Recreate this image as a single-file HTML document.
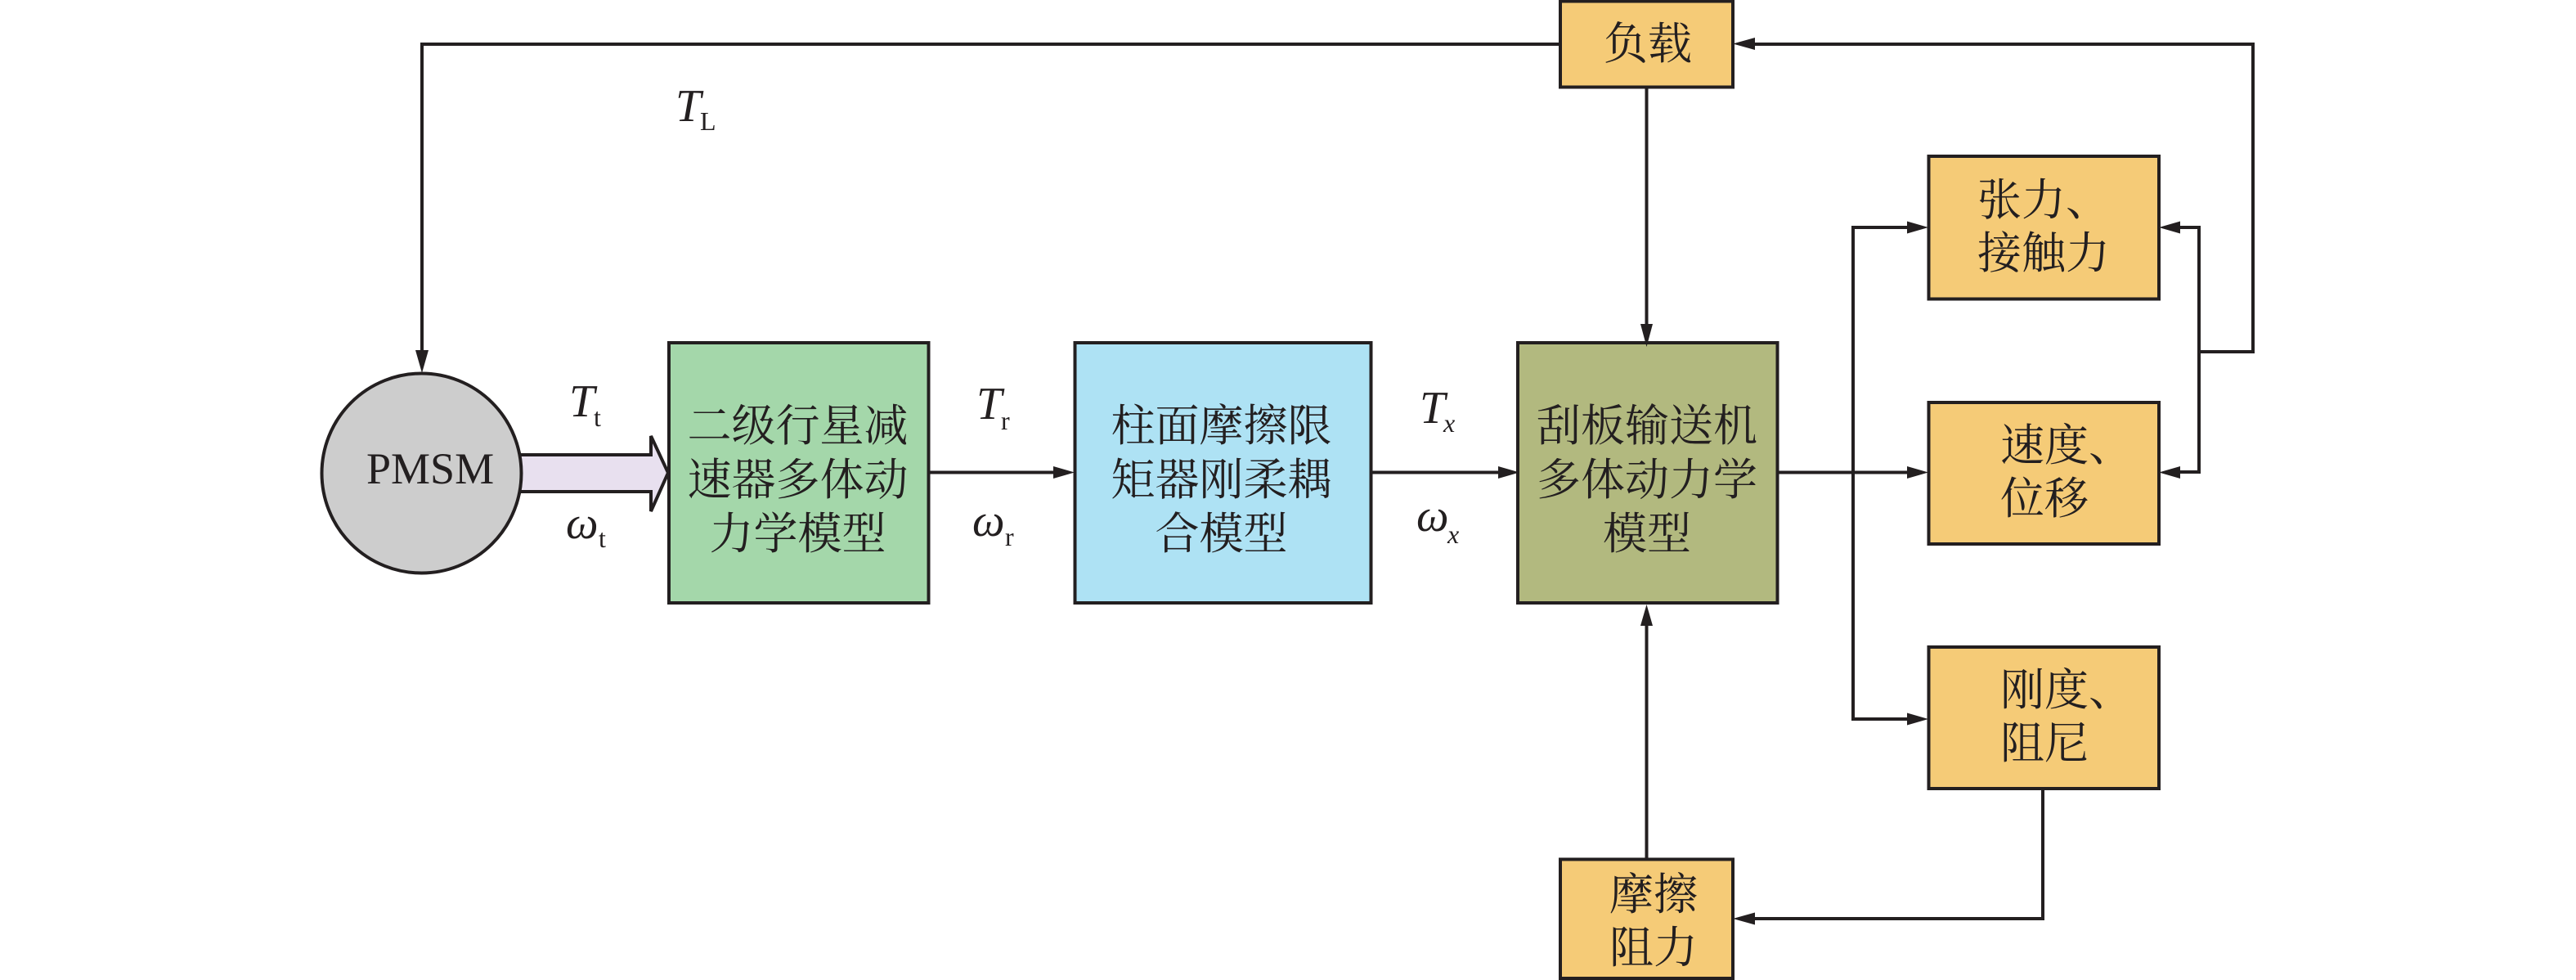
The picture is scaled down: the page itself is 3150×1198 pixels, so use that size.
<!DOCTYPE html>
<html><head><meta charset="utf-8"><style>
html,body{margin:0;padding:0;background:#fff}
svg{display:block}
.c{font-family:"Liberation Serif","Noto Serif CJK SC",serif;font-size:54px;fill:#231f20}
.m{text-anchor:middle}
.t{font-family:"Liberation Serif",serif;font-style:italic;font-size:56px;fill:#231f20}
.s{font-family:"Liberation Serif",serif;font-size:32px;fill:#231f20}
.si{font-family:"Liberation Serif",serif;font-style:italic;font-size:32px;fill:#231f20}
.l{fill:none;stroke:#231f20;stroke-width:4}
.b{stroke:#231f20;stroke-width:4}
</style></head><body>
<svg width="3150" height="1198" viewBox="0 0 3150 1198" xmlns="http://www.w3.org/2000/svg">
<rect width="3150" height="1198" fill="#fff"/>
<!-- connectors -->
<path class="l" d="M1908 54H516V430"/>
<path class="l" d="M2140 54H2755V430H2689"/>
<path class="l" d="M2662 278H2689V577H2662"/>
<path class="l" d="M2335 278H2266V879H2335"/>
<path class="l" d="M2173 577.5H2335"/>
<path class="l" d="M2013.5 107V400"/>
<path class="l" d="M2013.5 1050V762"/>
<path class="l" d="M2498 964V1123H2140"/>
<path class="l" d="M1135 577.5H1292"/>
<path class="l" d="M1676 577.5H1834"/>
<!-- block arrow -->
<polygon class="b" fill="#e8e0ef" points="630,556 796,556 796,533 817,578 796,625 796,601 630,601"/>
<!-- nodes -->
<circle class="b" cx="515.5" cy="578.5" r="122" fill="#cdcdcd"/>
<rect class="b" x="818" y="419" width="317.5" height="318" fill="#a4d7aa"/>
<rect class="b" x="1314.5" y="419" width="362" height="318" fill="#aee2f4"/>
<rect class="b" x="1856" y="419" width="317.5" height="318" fill="#b2b97f"/>
<rect class="b" x="1908" y="1.5" width="211" height="105" fill="#f5cb77"/>
<rect class="b" x="2358.5" y="191" width="281.5" height="174.5" fill="#f5cb77"/>
<rect class="b" x="2358.5" y="492" width="281.5" height="173" fill="#f5cb77"/>
<rect class="b" x="2358.5" y="791" width="281.5" height="173" fill="#f5cb77"/>
<rect class="b" x="1908" y="1050.5" width="211" height="145.5" fill="#f5cb77"/>
<!-- arrowheads -->
<g fill="#231f20">
<polygon points="516,456 508,428 524,428"/>
<polygon points="2119,53.5 2146,46 2146,61"/>
<polygon points="2640,278 2666,270.5 2666,285.5"/>
<polygon points="2640,577.5 2666,570 2666,585"/>
<polygon points="2358,278 2332,270.5 2332,285.5"/>
<polygon points="2358,577.5 2332,570 2332,585"/>
<polygon points="2358,879 2332,871.5 2332,886.5"/>
<polygon points="2013.5,424 2006,396 2021,396"/>
<polygon points="2013.5,739 2006,765 2021,765"/>
<polygon points="2119,1123 2146,1115.5 2146,1130.5"/>
<polygon points="1314,577.5 1288,570 1288,585"/>
<polygon points="1858,577.5 1832,570 1832,585"/>
</g>
<!-- labels -->
<text x="448" y="591" font-family="Liberation Serif, serif" font-size="54" fill="#231f20">PMSM</text>
<text class="c m" x="975.5" y="539">二级行星减</text>
<text class="c m" x="975.5" y="605">速器多体动</text>
<text class="c m" x="975.5" y="671">力学模型</text>
<text class="c m" x="1493.5" y="539">柱面摩擦限</text>
<text class="c m" x="1493.5" y="605">矩器刚柔耦</text>
<text class="c m" x="1493.5" y="671">合模型</text>
<text class="c m" x="2014" y="539">刮板输送机</text>
<text class="c m" x="2014" y="605">多体动力学</text>
<text class="c m" x="2014" y="671">模型</text>
<text class="c m" x="2015" y="72">负载</text>
<text class="c" x="2418" y="263">张力、</text>
<text class="c" x="2418" y="328">接触力</text>
<text class="c" x="2446" y="563">速度、</text>
<text class="c" x="2446" y="628">位移</text>
<text class="c" x="2446" y="862">刚度、</text>
<text class="c" x="2446" y="927">阻尼</text>
<text class="c" x="1968" y="1112">摩擦</text>
<text class="c" x="1968" y="1177">阻力</text>
<!-- math -->
<text class="t" x="826" y="148">T</text><text class="s" x="856" y="159">L</text>
<text class="t" x="696" y="509">T</text><text class="s" x="726" y="521">t</text>
<text class="t" x="692" y="658">ω</text><text class="s" x="732" y="669">t</text>
<text class="t" x="1194" y="512">T</text><text class="s" x="1224" y="525">r</text>
<text class="t" x="1189" y="655">ω</text><text class="s" x="1229" y="667">r</text>
<text class="t" x="1736" y="517">T</text><text class="si" x="1765" y="528">x</text>
<text class="t" x="1732" y="649">ω</text><text class="si" x="1770" y="664">x</text>
</svg>
</body></html>
